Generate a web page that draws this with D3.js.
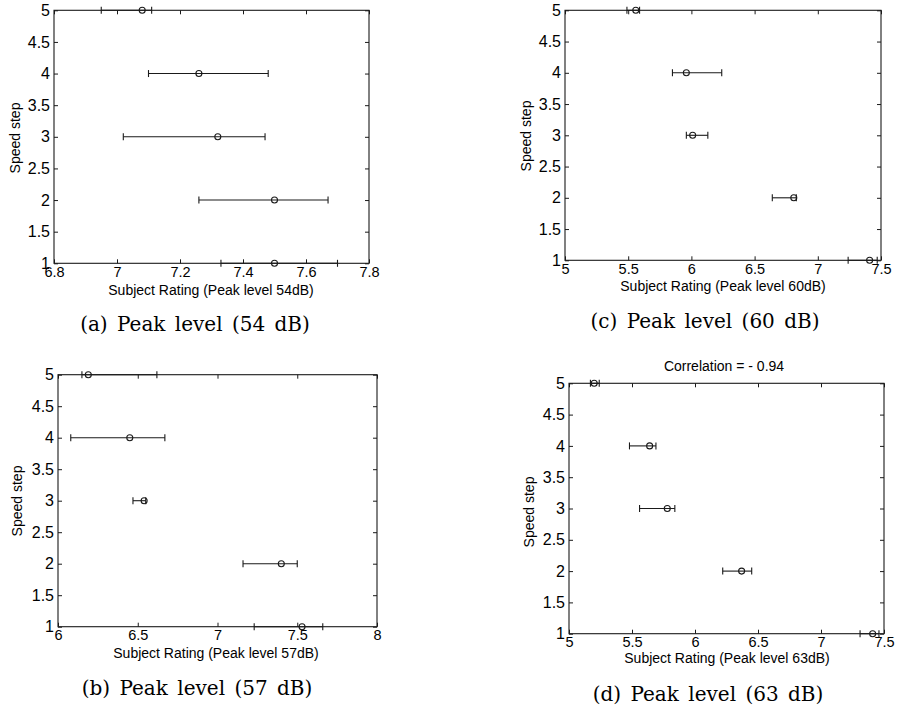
<!DOCTYPE html>
<html>
<head>
<meta charset="utf-8">
<script src="https://cdn.jsdelivr.net/npm/d3@7"></script>
<style>
  body { margin: 0; background: #fff; }
  svg { display: block; }
  .tick text { font-family: "Liberation Sans", Arial, sans-serif; fill: #000; }
  .axis-title { font-family: "Liberation Sans", Arial, sans-serif; font-size: 14px; fill: #000; }
  .caption { font-family: "DejaVu Serif", "Liberation Serif", serif; font-size: 20px; fill: #000; word-spacing: 3px; }
</style>
</head>
<body>
<div id="chart"></div>
<script>
// speed steps (y positions) and y tick values, shared by all four panels
const speedSteps = [5, 4, 3, 2, 1];
const yTicks = [1, 1.5, 2, 2.5, 3, 3.5, 4, 4.5, 5];

// x tick labels per panel
const xTicks54 = [6.8, 7, 7.2, 7.4, 7.6, 7.8];
const xTicks57 = [6, 6.5, 7, 7.5, 8];
const xTicks60 = [5, 5.5, 6, 6.5, 7, 7.5];
const xTicks63 = [5, 5.5, 6, 6.5, 7, 7.5];

// mean subject rating, lower and upper error bar ends (order follows speedSteps)
const mean54 = [7.08, 7.26, 7.32, 7.50, 7.50];
const lower54 = [6.95, 7.10, 7.02, 7.26, 7.33];
const upper54 = [7.11, 7.48, 7.47, 7.67, 7.70];

const mean57 = [6.19, 6.45, 6.54, 7.40, 7.53];
const lower57 = [6.15, 6.08, 6.47, 7.16, 7.23];
const upper57 = [6.62, 6.67, 6.55, 7.50, 7.66];

const mean60 = [5.56, 5.96, 6.01, 6.81, 7.41];
const lower60 = [5.49, 5.85, 5.96, 6.64, 7.24];
const upper60 = [5.59, 6.24, 6.13, 6.83, 7.47];

const mean63 = [5.20, 5.64, 5.78, 6.37, 7.41];
const lower63 = [5.17, 5.48, 5.56, 6.22, 7.31];
const upper63 = [5.24, 5.69, 5.84, 6.45, 7.46];

const svg = d3.select('#chart').append('svg')
    .attr('width', 899)
    .attr('height', 712);

const panels = [
    { left: 54, top: 10.3, width: 315, height: 253, domain: [6.8, 7.8], ticks: xTicks54,
      mean: mean54, lower: lower54, upper: upper54,
      xTitle: 'Subject Rating (Peak level 54dB)', xTitleX: 211, xTitleY: 295, yTitleX: 20, yTitleY: 138,
      caption: '(a) Peak level (54 dB)', capX: 195, capY: 331 },
    { left: 58, top: 374.7, width: 319, height: 252, domain: [6, 8], ticks: xTicks57,
      mean: mean57, lower: lower57, upper: upper57,
      xTitle: 'Subject Rating (Peak level 57dB)', xTitleX: 216, xTitleY: 658, yTitleX: 22, yTitleY: 501,
      caption: '(b) Peak level (57 dB)', capX: 197, capY: 694.5 },
    { left: 565, top: 10.3, width: 316, height: 250, domain: [5, 7.5], ticks: xTicks60,
      mean: mean60, lower: lower60, upper: upper60,
      xTitle: 'Subject Rating (Peak level 60dB)', xTitleX: 723, xTitleY: 291, yTitleX: 531, yTitleY: 136,
      caption: '(c) Peak level (60 dB)', capX: 705, capY: 328 },
    { left: 569, top: 383.3, width: 315, height: 250.4, domain: [5, 7.5], ticks: xTicks63,
      mean: mean63, lower: lower63, upper: upper63,
      title: 'Correlation = - 0.94', titleX: 724, titleY: 371,
      xTitle: 'Subject Rating (Peak level 63dB)', xTitleX: 727, xTitleY: 662.5, yTitleX: 534, yTitleY: 512,
      caption: '(d) Peak level (63 dB)', capX: 708, capY: 700.5 }
];

const ink = '#1a1a1a';
const fmt = d3.format('~g');

panels.forEach(p => {
    const g = svg.append('g').attr('transform', `translate(${p.left},${p.top})`);

    const x = d3.scaleLinear().domain(p.domain).range([0, p.width]);
    const y = d3.scaleLinear().domain([1, 5]).range([p.height, 0]);

    // MATLAB style: inward ticks on all four sides, box around
    const bottom = g.append('g').attr('transform', `translate(0,${p.height})`)
        .call(d3.axisBottom(x).tickValues(p.ticks).tickFormat(fmt).tickSizeInner(-4).tickSizeOuter(0).tickPadding(3));
    const left = g.append('g')
        .call(d3.axisLeft(y).tickValues(yTicks).tickFormat(fmt).tickSizeInner(-4).tickSizeOuter(0).tickPadding(4));
    g.append('g')
        .call(d3.axisTop(x).tickValues(p.ticks).tickSizeInner(-4).tickSizeOuter(0).tickFormat(''));
    g.append('g').attr('transform', `translate(${p.width},0)`)
        .call(d3.axisRight(y).tickValues(yTicks).tickSizeInner(-4).tickSizeOuter(0).tickFormat(''));

    g.selectAll('.domain').remove();
    g.selectAll('.tick line').attr('stroke', ink);
    bottom.selectAll('text').style('font-size', '14.5px');
    left.selectAll('text').style('font-size', '16px');

    g.append('rect')
        .attr('width', p.width)
        .attr('height', p.height)
        .attr('fill', 'none')
        .attr('stroke', ink)
        .attr('stroke-width', 1.1);

    // error bars
    const rows = speedSteps.map((s, i) => ({ step: s, mean: p.mean[i], lo: p.lower[i], hi: p.upper[i] }));

    g.selectAll('.bar').data(rows).join('line')
        .attr('class', 'bar')
        .attr('x1', d => x(d.lo)).attr('x2', d => x(d.hi))
        .attr('y1', d => y(d.step)).attr('y2', d => y(d.step))
        .attr('stroke', ink).attr('stroke-width', 1.1);

    g.selectAll('.cap-lo').data(rows).join('line')
        .attr('class', 'cap-lo')
        .attr('x1', d => x(d.lo)).attr('x2', d => x(d.lo))
        .attr('y1', d => y(d.step) - 3.5).attr('y2', d => y(d.step) + 3.5)
        .attr('stroke', ink).attr('stroke-width', 1.1);

    g.selectAll('.cap-hi').data(rows).join('line')
        .attr('class', 'cap-hi')
        .attr('x1', d => x(d.hi)).attr('x2', d => x(d.hi))
        .attr('y1', d => y(d.step) - 3.5).attr('y2', d => y(d.step) + 3.5)
        .attr('stroke', ink).attr('stroke-width', 1.1);

    g.selectAll('.dot').data(rows).join('circle')
        .attr('class', 'dot')
        .attr('cx', d => x(d.mean))
        .attr('cy', d => y(d.step))
        .attr('r', 3)
        .attr('fill', 'none')
        .attr('stroke', ink)
        .attr('stroke-width', 1.1);

    // titles
    svg.append('text')
        .attr('class', 'axis-title')
        .attr('x', p.xTitleX)
        .attr('y', p.xTitleY)
        .style('text-anchor', 'middle')
        .text(p.xTitle);

    svg.append('text')
        .attr('class', 'axis-title')
        .attr('transform', `translate(${p.yTitleX},${p.yTitleY}) rotate(-90)`)
        .style('text-anchor', 'middle')
        .text('Speed step');

    if (p.title) {
        svg.append('text')
            .attr('class', 'axis-title')
            .attr('x', p.titleX)
            .attr('y', p.titleY)
            .style('text-anchor', 'middle')
            .text(p.title);
    }

    svg.append('text')
        .attr('class', 'caption')
        .attr('x', p.capX)
        .attr('y', p.capY)
        .style('text-anchor', 'middle')
        .text(p.caption);
});
</script>
</body>
</html>
